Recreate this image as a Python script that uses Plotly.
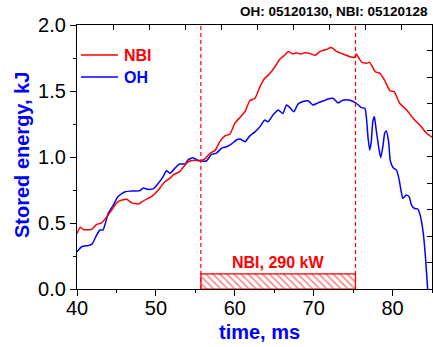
import plotly.graph_objects as go

# ---------------- data ----------------
nbi_t = [40.0, 40.4, 40.8, 41.3, 41.85, 42.5, 43.1, 43.8, 44.4, 45.0, 45.45, 46.3, 46.9, 47.8,
         48.2, 49.0, 49.45, 50.3, 51.1, 51.8, 52.2, 53.0, 53.7, 54.1, 54.9, 55.6, 56.2, 56.9,
         57.5, 58.1, 58.76, 59.4, 60.0, 60.66, 61.3, 61.9, 62.56, 63.2, 63.8, 64.46, 65.1,
         65.7, 66.35, 66.8, 67.4, 67.8, 68.3, 68.9, 69.5, 70.2, 70.8, 71.6, 72.25, 72.9, 73.7,
         74.6, 75.2, 75.4, 76.05, 76.7, 77.1, 77.8, 78.4, 79.0, 79.7, 80.2, 80.9, 81.8, 82.6,
         83.45, 84.3, 85.0]
nbi_w = [0.42, 0.467, 0.452, 0.448, 0.452, 0.49, 0.50, 0.548, 0.598, 0.649, 0.669, 0.68, 0.654,
         0.644, 0.66, 0.687, 0.70, 0.75, 0.81, 0.84, 0.864, 0.889, 0.94, 0.964, 0.975, 0.97,
         0.985, 1.03, 1.05, 1.116, 1.16, 1.174, 1.255, 1.30, 1.343, 1.426, 1.445, 1.533, 1.596,
         1.634, 1.684, 1.74, 1.773, 1.80, 1.78, 1.79, 1.78, 1.79, 1.785, 1.77, 1.80, 1.815,
         1.83, 1.80, 1.78, 1.76, 1.755, 1.78, 1.72, 1.71, 1.717, 1.646, 1.634, 1.58, 1.50,
         1.495, 1.407, 1.356, 1.293, 1.242, 1.18, 1.15]

oh_t = [40.0, 40.6, 41.45, 41.9, 42.5, 42.9, 43.3, 43.96, 44.6, 45.2, 46.1, 46.9, 47.97, 48.4,
        49.0, 49.7, 50.3, 50.9, 51.35, 51.8, 52.4, 53.0, 53.7, 54.1, 54.7, 55.35, 55.8, 56.4,
        57.05, 57.7, 58.3, 58.95, 59.6, 60.2, 60.66, 61.3, 61.9, 62.56, 63.2, 63.8, 64.2,
        64.85, 65.5, 66.1, 66.55, 66.96, 67.5, 68.0, 68.65, 69.3, 69.9, 70.55, 71.2, 71.8,
        72.45, 73.1, 73.7, 74.6, 75.4, 76.05, 76.5, 76.7, 76.9, 77.1, 77.3, 77.5, 77.7,
        77.9, 78.3, 78.5, 78.8, 79.0, 79.2, 79.5, 79.7, 80.05, 80.5, 80.8, 81.1, 81.3,
        81.75, 82.1, 82.4, 82.8, 83.2, 83.5, 83.9, 84.2, 84.45]
oh_w = [0.283, 0.32, 0.33, 0.34, 0.41, 0.447, 0.447, 0.573, 0.636, 0.70, 0.737, 0.742, 0.745,
        0.765, 0.755, 0.76, 0.80, 0.85, 0.896, 0.876, 0.914, 0.947, 0.947, 0.98, 0.995, 0.975,
        0.97, 0.97, 1.02, 1.03, 1.066, 1.078, 1.10, 1.129, 1.136, 1.116, 1.16, 1.19, 1.23,
        1.28, 1.267, 1.318, 1.356, 1.33, 1.394, 1.376, 1.343, 1.40, 1.42, 1.426, 1.394, 1.41,
        1.424, 1.44, 1.445, 1.41, 1.43, 1.43, 1.407, 1.374, 1.369, 1.29, 1.14, 1.053, 1.116,
        1.27, 1.305, 1.217, 1.053, 0.995, 1.09, 1.18, 1.197, 1.116, 0.977, 0.92, 0.90, 0.838,
        0.737, 0.687, 0.712, 0.70, 0.636, 0.61, 0.606, 0.56, 0.42, 0.22, 0.0]

nbi_start = 55.7
nbi_end = 75.3
nbi_bar_height = 0.115
nbi_label = "NBI, 290 kW"
nbi_label_y = 0.2

x_range = [40, 85]
y_range = [0, 2]
title_text = "OH: 05120130, NBI: 05120128"
x_title = "time, ms"
y_title = "Stored energy, kJ"

RED = "#ff0000"
BLUE = "#0000ff"
FONT = "Liberation Sans, Arial, sans-serif"

# ---------------- figure ----------------
fig = go.Figure()

fig.add_trace(go.Bar(
    x=[(nbi_start + nbi_end) / 2], y=[nbi_bar_height], width=[nbi_end - nbi_start],
    marker=dict(color="white",
                pattern=dict(shape="\\", fgcolor=RED, bgcolor="white", size=5, solidity=0.3),
                line=dict(color=RED, width=1.2)),
    showlegend=False, hoverinfo="skip"))

fig.add_trace(go.Scatter(x=oh_t, y=oh_w, mode="lines", name="OH",
                         line=dict(color=BLUE, width=1.5, shape="spline", smoothing=0.5),
                         showlegend=False))
fig.add_trace(go.Scatter(x=nbi_t, y=nbi_w, mode="lines", name="NBI",
                         line=dict(color=RED, width=1.5, shape="spline", smoothing=0.5),
                         showlegend=False))

# dummy trace for the tick-only top/right axes
fig.add_trace(go.Scatter(x=[None], y=[None], xaxis="x2", yaxis="y2", showlegend=False,
                         hoverinfo="skip"))

for xv in (nbi_start, nbi_end):
    fig.add_shape(type="line", xref="x", yref="paper", x0=xv, x1=xv, y0=0, y1=1,
                  line=dict(color=RED, width=1.2, dash="4px,3px"))

W, H = 433, 347
L, R, T, B = 77, 1, 25, 58
pw, ph = W - L - R, H - T - B

def px(xp):
    return (xp - L) / pw

def py(yp):
    return (H - B - yp) / ph

# manual legend
for label, col, ypix in (("NBI", RED, 55), ("OH", BLUE, 77)):
    fig.add_shape(type="line", xref="paper", yref="paper", x0=px(81), x1=px(118),
                  y0=py(ypix), y1=py(ypix), line=dict(color=col, width=1.5))
    fig.add_annotation(xref="paper", yref="paper", x=px(122), y=py(ypix), text=label,
                       showarrow=False, xanchor="left", yanchor="middle",
                       font=dict(family=FONT, size=16, color=col, weight="bold"))

fig.add_annotation(xref="x", yref="y", x=(nbi_start + nbi_end) / 2, y=nbi_label_y,
                   text=nbi_label, showarrow=False, xanchor="center", yanchor="middle",
                   font=dict(family=FONT, size=16, color=RED, weight="bold"))

fig.add_annotation(xref="paper", yref="paper", x=px(430), y=py(12), text=title_text,
                   showarrow=False, xanchor="right", yanchor="middle",
                   font=dict(family=FONT, size=13.5, color="black", weight="bold"))

fig.add_annotation(xref="paper", yref="paper", x=px(259), y=py(332), text=x_title,
                   showarrow=False, xanchor="center", yanchor="middle",
                   font=dict(family=FONT, size=20, color=BLUE, weight="bold"))
fig.add_annotation(xref="paper", yref="paper", x=px(22), y=py(155), text=y_title,
                   showarrow=False, xanchor="center", yanchor="middle", textangle=-90,
                   font=dict(family=FONT, size=20, color=BLUE, weight="bold"))

fig.update_layout(
    width=W, height=H,
    margin=dict(l=L, r=R, t=T, b=B, pad=0),
    paper_bgcolor="white", plot_bgcolor="white",
    font=dict(family=FONT, size=20, color="black"),
    showlegend=False,
    xaxis=dict(range=x_range, dtick=10, tick0=40, showgrid=False, zeroline=False,
               showline=True, linecolor="black", linewidth=1.2,
               ticks="outside", ticklen=6, tickwidth=1.2, tickcolor="black",
               ticklabelstandoff=-5,
               minor=dict(dtick=5, ticks="outside", ticklen=3, tickcolor="black", showgrid=False),
               tickfont=dict(family=FONT, size=20, color="black")),
    yaxis=dict(range=y_range, dtick=0.5, tick0=0, tickformat=".1f", showgrid=False,
               zeroline=False, showline=True, linecolor="black", linewidth=1.2,
               ticks="outside", ticklen=6, tickwidth=1.2, tickcolor="black",
               minor=dict(dtick=0.25, ticks="outside", ticklen=3, tickcolor="black", showgrid=False),
               tickfont=dict(family=FONT, size=20, color="black")),
    xaxis2=dict(overlaying="x", side="top", anchor="y", range=[0, pw / 36.0], dtick=1,
                tick0=0, showticklabels=False, showgrid=False, zeroline=False,
                showline=True, linecolor="black", linewidth=1.2,
                ticks="inside", ticklen=5, tickcolor="black"),
    yaxis2=dict(overlaying="y", side="right", anchor="x", range=[0, ph / 26.5], dtick=1,
                tick0=0, showticklabels=False, showgrid=False, zeroline=False,
                showline=True, linecolor="black", linewidth=1.2,
                ticks="inside", ticklen=5, tickcolor="black"),
)

fig.write_html("out.html")
